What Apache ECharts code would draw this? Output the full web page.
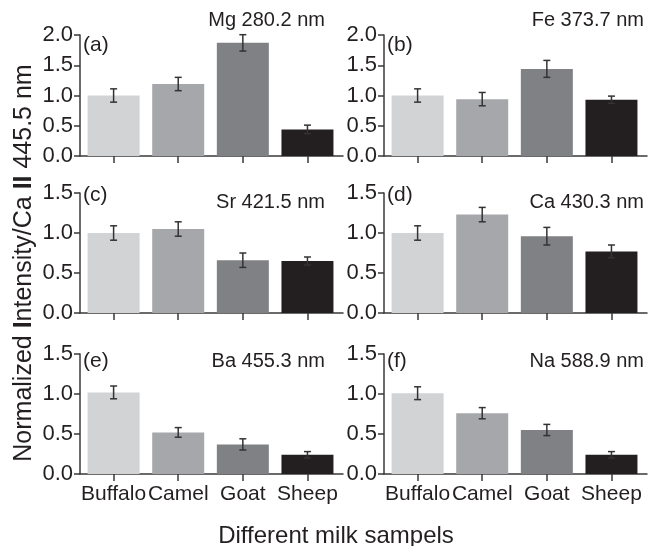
<!DOCTYPE html>
<html>
<head>
<meta charset="utf-8">
<script src="https://cdn.jsdelivr.net/npm/echarts@6/dist/echarts.min.js"></script>
<style>
  html, body { margin: 0; padding: 0; background: #fff; }
  #chart { width: 660px; height: 546px; }
</style>
</head>
<body>
<div id="chart"></div>
<script>
// Milk sample categories and per-line normalized intensities (mean and error)
const categories = ['Buffalo', 'Camel', 'Goat', 'Sheep'];
const panelLetters = ['(a)', '(b)', '(c)', '(d)', '(e)', '(f)'];
const panelLines = ['Mg 280.2 nm', 'Fe 373.7 nm', 'Sr 421.5 nm', 'Ca 430.3 nm', 'Ba 455.3 nm', 'Na 588.9 nm'];

const mgValues = [1.00, 1.19, 1.87, 0.44];
const mgErrors = [0.11, 0.11, 0.135, 0.07];
const feValues = [1.00, 0.94, 1.44, 0.93];
const feErrors = [0.11, 0.11, 0.14, 0.06];
const srValues = [1.00, 1.05, 0.66, 0.65];
const srErrors = [0.09, 0.09, 0.09, 0.05];
const caValues = [1.00, 1.23, 0.96, 0.77];
const caErrors = [0.09, 0.09, 0.11, 0.08];
const baValues = [1.02, 0.52, 0.37, 0.24];
const baErrors = [0.08, 0.06, 0.07, 0.04];
const naValues = [1.01, 0.76, 0.55, 0.24];
const naErrors = [0.08, 0.07, 0.07, 0.04];

const yTopValues = [2.0, 2.0, 1.5, 1.5, 1.5, 1.5];
const yTickStep = 0.5;

const panelValues = [mgValues, feValues, srValues, caValues, baValues, naValues];
const panelErrors = [mgErrors, feErrors, srErrors, caErrors, baErrors, naErrors];

const barColors = ['#d2d3d5', '#a6a7aa', '#808185', '#231f20'];
const FONT = "'Liberation Sans', Arial, Helvetica, sans-serif";
const AXIS_COLOR = '#3a3a3a';
const TEXT_COLOR = '#231f20';

// panel layout: two columns, three rows
const colLeft = [80, 384];
const gridWidth = 263;
const rowTop = [35, 193, 354];
const rowHeight = [121, 120, 120];

const grids = [], xAxes = [], yAxes = [], series = [], graphics = [];

for (let p = 0; p < 6; p++) {
  const col = p % 2, row = Math.floor(p / 2);
  const bottomRow = row === 2;
  grids.push({ left: colLeft[col], top: rowTop[row], width: gridWidth, height: rowHeight[row] });
  xAxes.push({
    gridIndex: p, type: 'value', min: -0.52, max: 3.55,
    splitLine: { show: false },
    axisLine: { show: true, onZero: false, lineStyle: { color: AXIS_COLOR, width: 1.5 } },
    axisTick: { show: true, customValues: [0, 1, 2, 3], length: 7, lineStyle: { color: AXIS_COLOR, width: 1.5 } },
    axisLabel: {
      show: bottomRow, customValues: [0, 1, 2, 3], margin: 10, hideOverlap: false,
      showMinLabel: true, showMaxLabel: true,
      formatter: v => categories[Math.round(v)] || '',
      fontFamily: FONT, fontSize: 21, color: TEXT_COLOR
    }
  });
  yAxes.push({
    gridIndex: p, type: 'value', min: 0, max: yTopValues[p], interval: yTickStep,
    splitLine: { show: false },
    axisLine: { show: true, onZero: false, lineStyle: { color: AXIS_COLOR, width: 1.5 } },
    axisTick: { show: true, length: 6, lineStyle: { color: AXIS_COLOR, width: 1.5 } },
    axisLabel: {
      margin: 7, formatter: v => v.toFixed(1),
      fontFamily: FONT, fontSize: 22, color: TEXT_COLOR
    }
  });

  const vals = panelValues[p], errs = panelErrors[p];
  series.push({
    type: 'bar', xAxisIndex: p, yAxisIndex: p, barWidth: 52,
    data: vals.map((v, i) => ({ value: [i, v], itemStyle: { color: barColors[i] } })),
    silent: true, animation: false
  });
  series.push({
    type: 'custom', xAxisIndex: p, yAxisIndex: p, silent: true, animation: false, z: 5,
    encode: { x: 0, y: [1, 2] },
    data: vals.map((v, i) => [i, v - errs[i], v + errs[i]]),
    renderItem: (params, api) => {
      const lo = api.coord([api.value(0), api.value(1)]);
      const hi = api.coord([api.value(0), api.value(2)]);
      const cap = 3.5;
      const st = { stroke: '#333', lineWidth: 1.5, fill: null };
      return {
        type: 'group',
        children: [
          { type: 'line', shape: { x1: hi[0], y1: hi[1], x2: lo[0], y2: lo[1] }, style: st },
          { type: 'line', shape: { x1: hi[0] - cap, y1: hi[1], x2: hi[0] + cap, y2: hi[1] }, style: st },
          { type: 'line', shape: { x1: lo[0] - cap, y1: lo[1], x2: lo[0] + cap, y2: lo[1] }, style: st }
        ]
      };
    }
  });

  // panel letter beside the axis top, emission line at the upper right
  const letterY = [45, 195, 361][row];
  const lineY = [20, 202, 361][row];
  graphics.push({
    type: 'text', x: colLeft[col] + 3, y: letterY, silent: true,
    style: { text: panelLetters[p], font: '21px ' + FONT, fill: TEXT_COLOR, verticalAlign: 'middle' }
  });
  graphics.push({
    type: 'text', x: colLeft[col] + [245, 260][col], y: lineY, silent: true,
    style: { text: panelLines[p], font: '20px ' + FONT, fill: TEXT_COLOR, align: 'right', verticalAlign: 'middle' }
  });
}

// shared axis titles
graphics.push({
  type: 'text', x: 24, y: 263, rotation: Math.PI / 2, silent: true,
  style: {
    text: 'Normalized {b|I}ntensity/Ca {b|II} 445.5 nm',
    font: '25px ' + FONT, fill: TEXT_COLOR, align: 'center', verticalAlign: 'middle',
    rich: { b: { fontWeight: 'bold', fontSize: 25, fontFamily: FONT, fill: TEXT_COLOR } }
  }
});
graphics.push({
  type: 'text', x: 336, y: 536, silent: true,
  style: { text: 'Different milk sampels', font: '24px ' + FONT, fill: TEXT_COLOR, align: 'center', verticalAlign: 'middle' }
});

const chart = echarts.init(document.getElementById('chart'), null, { renderer: 'canvas' });
chart.setOption({
  backgroundColor: '#fff',
  animation: false,
  grid: grids,
  xAxis: xAxes,
  yAxis: yAxes,
  series: series,
  graphic: graphics
});
</script>
</body>
</html>
